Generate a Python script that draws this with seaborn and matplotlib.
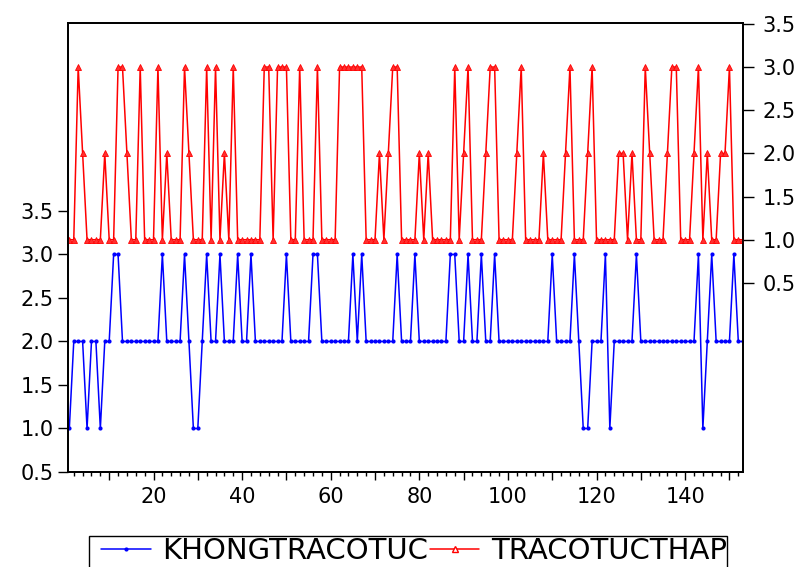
import matplotlib
matplotlib.use("Agg")
import matplotlib.pyplot as plt
from matplotlib.ticker import MultipleLocator, FixedLocator, FuncFormatter
from matplotlib.lines import Line2D
from matplotlib.patches import Rectangle
import seaborn as sns
import pandas as pd

# ---- data ----
khongtracotuc = [
    1, 2, 2, 2, 1, 2, 2, 1, 2, 2,
    3, 3, 2, 2, 2, 2, 2, 2, 2, 2,
    2, 3, 2, 2, 2, 2, 3, 2, 1, 1,
    2, 3, 2, 2, 3, 2, 2, 2, 3, 2,
    2, 3, 2, 2, 2, 2, 2, 2, 2, 3,
    2, 2, 2, 2, 2, 3, 3, 2, 2, 2,
    2, 2, 2, 2, 3, 2, 3, 2, 2, 2,
    2, 2, 2, 2, 3, 2, 2, 2, 3, 2,
    2, 2, 2, 2, 2, 2, 3, 3, 2, 2,
    3, 2, 2, 3, 2, 2, 3, 2, 2, 2,
    2, 2, 2, 2, 2, 2, 2, 2, 2, 3,
    2, 2, 2, 2, 3, 2, 1, 1, 2, 2,
    2, 3, 1, 2, 2, 2, 2, 2, 3, 2,
    2, 2, 2, 2, 2, 2, 2, 2, 2, 2,
    2, 2, 3, 1, 2, 3, 2, 2, 2, 2,
    3, 2, 2,
]
tracotucthap = [
    1, 1, 3, 2, 1, 1, 1, 1, 2, 1,
    1, 3, 3, 2, 1, 1, 3, 1, 1, 1,
    3, 1, 2, 1, 1, 1, 3, 2, 1, 1,
    1, 3, 1, 3, 1, 2, 1, 3, 1, 1,
    1, 1, 1, 1, 3, 3, 1, 3, 3, 3,
    1, 1, 3, 1, 1, 1, 3, 1, 1, 1,
    1, 3, 3, 3, 3, 3, 3, 1, 1, 1,
    2, 1, 2, 3, 3, 1, 1, 1, 1, 2,
    1, 2, 1, 1, 1, 1, 1, 3, 1, 2,
    3, 1, 1, 1, 2, 3, 3, 1, 1, 1,
    1, 2, 3, 1, 1, 1, 1, 2, 1, 1,
    1, 1, 2, 3, 1, 1, 1, 2, 3, 1,
    1, 1, 1, 1, 2, 2, 1, 2, 1, 1,
    3, 2, 1, 1, 1, 2, 3, 3, 1, 1,
    1, 2, 3, 1, 2, 1, 1, 2, 2, 3,
    1, 1, 1,
]
obs = list(range(1, len(khongtracotuc) + 1))
y_ticks = [0.5, 1.0, 1.5, 2.0, 2.5, 3.0, 3.5]
x_label_ticks = [20, 40, 60, 80, 100, 120, 140]
series_names = ["KHONGTRACOTUC", "TRACOTUCTHAP"]

df = pd.DataFrame({"obs": obs, "blue": khongtracotuc, "red": tracotucthap})

sns.set_style("white")
plt.rcParams["font.family"] = ["DejaVu Sans"]
plt.rcParams["text.color"] = "black"

W, H = 802, 567
fig = plt.figure(figsize=(W / 100, H / 100), dpi=100)
ax = fig.add_axes([68 / W, 1 - 472 / H, (743 - 68) / W, (472 - 23) / H])
ax2 = ax.twinx()

sns.lineplot(data=df, x="obs", y="blue", ax=ax, color="#0000ff", linewidth=1.1,
             marker="o", markersize=3, markeredgewidth=0, legend=False)
sns.lineplot(data=df, x="obs", y="red", ax=ax2, color="#ff0000", linewidth=1.1,
             marker="^", markersize=4.8, markeredgewidth=0.6, markerfacecolor="#ff3030",
             markeredgecolor="#ff0000", legend=False)

ax.set_xlim(0.7, 153.06)
ax.set_ylim(0.5, 5.66)
ax2.set_ylim(-1.69, 3.51)

for a in (ax, ax2):
    a.set_xlabel("")
    a.set_ylabel("")
    for s in a.spines.values():
        s.set_color("black")
        s.set_linewidth(1.3)

ax.yaxis.set_major_locator(FixedLocator(y_ticks))
ax2.yaxis.set_major_locator(FixedLocator(y_ticks))
ax.yaxis.set_major_formatter(FuncFormatter(lambda v, p: f"{v:.1f}"))
ax2.yaxis.set_major_formatter(FuncFormatter(lambda v, p: f"{v:.1f}"))

ax.xaxis.set_major_locator(MultipleLocator(10))
ax.xaxis.set_minor_locator(MultipleLocator(2))
ax.xaxis.set_major_formatter(FuncFormatter(lambda v, p: f"{int(v)}" if int(round(v)) in x_label_ticks else ""))

ax.tick_params(axis="y", which="major", direction="out", length=7.5, width=1,
               labelsize=15, pad=3, left=True, right=False, colors="black")
ax2.tick_params(axis="y", which="major", direction="out", length=8, width=1,
                labelsize=15, pad=6, right=True, left=False, colors="black")
ax.tick_params(axis="x", which="major", direction="out", length=5.5, width=1,
               labelsize=15, pad=5, bottom=True, colors="black")
ax.tick_params(axis="x", which="minor", direction="out", length=3.2, width=1,
               bottom=True, colors="black")

# legend frame (extends past the bottom edge, as in the reference)
fig.patches.append(Rectangle((89 / W, -0.05), (727 - 89) / W, 0.05 + (H - 536) / H,
                             transform=fig.transFigure, fill=False,
                             edgecolor="black", linewidth=1.0, zorder=1))

handles = [
    Line2D([], [], color="#0000ff", linewidth=1.1, marker="o", markersize=3, markeredgewidth=0),
    Line2D([], [], color="#ff0000", linewidth=1.1, marker="^", markersize=5,
           markerfacecolor="white", markeredgecolor="#ff0000", markeredgewidth=1),
]
leg = fig.legend(handles, series_names, loc="upper left", ncol=2,
                 bbox_to_anchor=(101 / W, 1 - 537 / H), fontsize=21,
                 frameon=False, handlelength=1.7, handletextpad=0.4,
                 columnspacing=0.05, borderpad=0, borderaxespad=0)
for t in leg.get_texts():
    t.set_color("black")

fig.savefig("out.png", dpi=100)
